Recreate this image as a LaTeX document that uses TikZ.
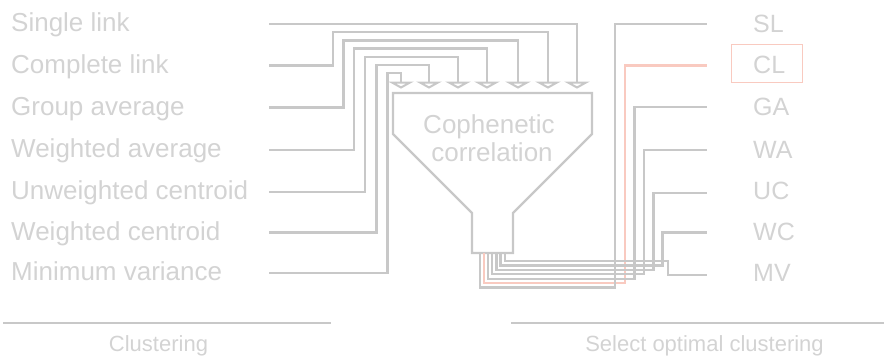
\documentclass[tikz,border=0pt]{standalone}
\usepackage{fontspec}
\setmainfont{Liberation Sans}
\definecolor{txt}{RGB}{211,211,211}
\definecolor{ln}{RGB}{200,200,200}
\definecolor{hl}{RGB}{249,202,192}
\begin{document}
\begin{tikzpicture}[x=1pt,y=-1pt,
  lbl/.style={text=txt, font=\fontsize{26}{30}\selectfont, inner sep=0pt, anchor=base west},
  rlbl/.style={text=txt, font=\fontsize{25}{30}\selectfont, inner sep=0pt, anchor=base west},
  ctr/.style={text=txt, font=\fontsize{26}{30}\selectfont, inner sep=0pt, anchor=base},
  foot/.style={text=txt, font=\fontsize{22}{26}\selectfont, inner sep=0pt, anchor=base},
  wire/.style={draw=ln, line width=2.2pt},
  hot/.style={draw=hl, line width=2.2pt},
  head/.style={draw=ln, line width=2pt, fill=white, line join=miter}]
\useasboundingbox (0,0) rectangle (884,357);

% left labels
\node[lbl] (l1) at (11,31.5) {Single link};
\node[lbl] (l2) at (11,73) {Complete link};
\node[lbl] (l3) at (11,115) {Group average};
\node[lbl] (l4) at (11,157.5) {Weighted average};
\node[lbl] (l5) at (11,199.5) {Unweighted centroid};
\node[lbl] (l6) at (11,240) {Weighted centroid};
\node[lbl] (l7) at (11,280.5) {Minimum variance};

% right labels
\node[rlbl] (r1) at (753,32) {SL};
\node[rlbl] (r2) at (753,73) {CL};
\node[rlbl] (r3) at (753,115) {GA};
\node[rlbl] (r4) at (753,158) {WA};
\node[rlbl] (r5) at (753,199) {UC};
\node[rlbl] (r6) at (753,240) {WC};
\node[rlbl] (r7) at (753,281) {MV};
\node[draw=hl, line width=1.6pt, minimum width=71pt, minimum height=38pt, inner sep=0pt] (clbox) at (767,63.5) {};

% funnel
\draw[wire, line join=miter] (393,93) -- (592,93) -- (592,134) -- (513,213) -- (513,253)
  -- (472,253) -- (472,213) -- (393,134) -- cycle;
\node[ctr] (c1) at (489,133.5) {Cophenetic};
\node[ctr] (c2) at (492,161) {correlation};

% left connectors
\coordinate (s1) at (269,24);
\coordinate (s2) at (269,65.5);
\coordinate (s3) at (269,107.5);
\coordinate (s4) at (269,150);
\coordinate (s5) at (269,192);
\coordinate (s6) at (269,232.5);
\coordinate (s7) at (269,273);
\coordinate (t1) at (577,82.5);
\coordinate (t2) at (548,82.5);
\coordinate (t3) at (518,82.5);
\coordinate (t4) at (487,82.5);
\coordinate (t5) at (458,82.5);
\coordinate (t6) at (429,82.5);
\coordinate (t7) at (401,82.5);
\coordinate (k2) at (333,32);
\coordinate (k3) at (343.5,40.5);
\coordinate (k4) at (354,48.5);
\coordinate (k5) at (365,57);
\coordinate (k6) at (376.5,65);
\coordinate (k7) at (387.5,73);
\draw[wire] (s1) -| (t1);
\draw[wire] (s2) -| (k2) -| (t2);
\draw[wire] (s3) -| (k3) -| (t3);
\draw[wire] (s4) -| (k4) -| (t4);
\draw[wire] (s5) -| (k5) -| (t5);
\draw[wire] (s6) -| (k6) -| (t6);
\draw[wire] (s7) -| (k7) -| (t7);
\foreach \t in {t1,t2,t3,t4,t5,t6,t7}
  \draw[head] ([xshift=-9pt]\t) -- ([xshift=9pt]\t) -- ([yshift=-5pt]\t) -- cycle;

% right connectors
\coordinate (n1) at (480,253);
\coordinate (n2) at (484.1,253);
\coordinate (n3) at (488.2,253);
\coordinate (n4) at (492.3,253);
\coordinate (n5) at (496.4,253);
\coordinate (n6) at (500.5,253);
\coordinate (n7) at (504.6,253);
\coordinate (m1) at (615,287.5);
\coordinate (m2) at (625,283.1);
\coordinate (m3) at (634.5,278.7);
\coordinate (m4) at (644,274.3);
\coordinate (m5) at (653.5,269.9);
\coordinate (m6) at (662.5,265.5);
\coordinate (m7) at (668,261.1);
\coordinate (e1) at (707,24);
\coordinate (e2) at (707,65.5);
\coordinate (e3) at (707,107);
\coordinate (e4) at (707,150);
\coordinate (e5) at (707,193);
\coordinate (e6) at (707,232.5);
\coordinate (e7) at (707,275);
\draw[hot] (n2) |- (m2) |- (e2);
\draw[wire] (n1) |- (m1) |- (e1);
\draw[wire] (n3) |- (m3) |- (e3);
\draw[wire] (n4) |- (m4) |- (e4);
\draw[wire] (n5) |- (m5) |- (e5);
\draw[wire] (n6) |- (m6) |- (e6);
\draw[wire] (n7) |- (m7) |- (e7);

% footer
\coordinate (fa) at (3,323);
\coordinate (fb) at (331,323);
\coordinate (fc) at (511,323);
\coordinate (fd) at (884,323);
\draw[wire] (fa) -- (fb);
\draw[wire] (fc) -- (fd);
\node[foot] (f1) at (158.5,351.5) {Clustering};
\node[foot] (f2) at (704.5,351.5) {Select optimal clustering};
\end{tikzpicture}
\end{document}
